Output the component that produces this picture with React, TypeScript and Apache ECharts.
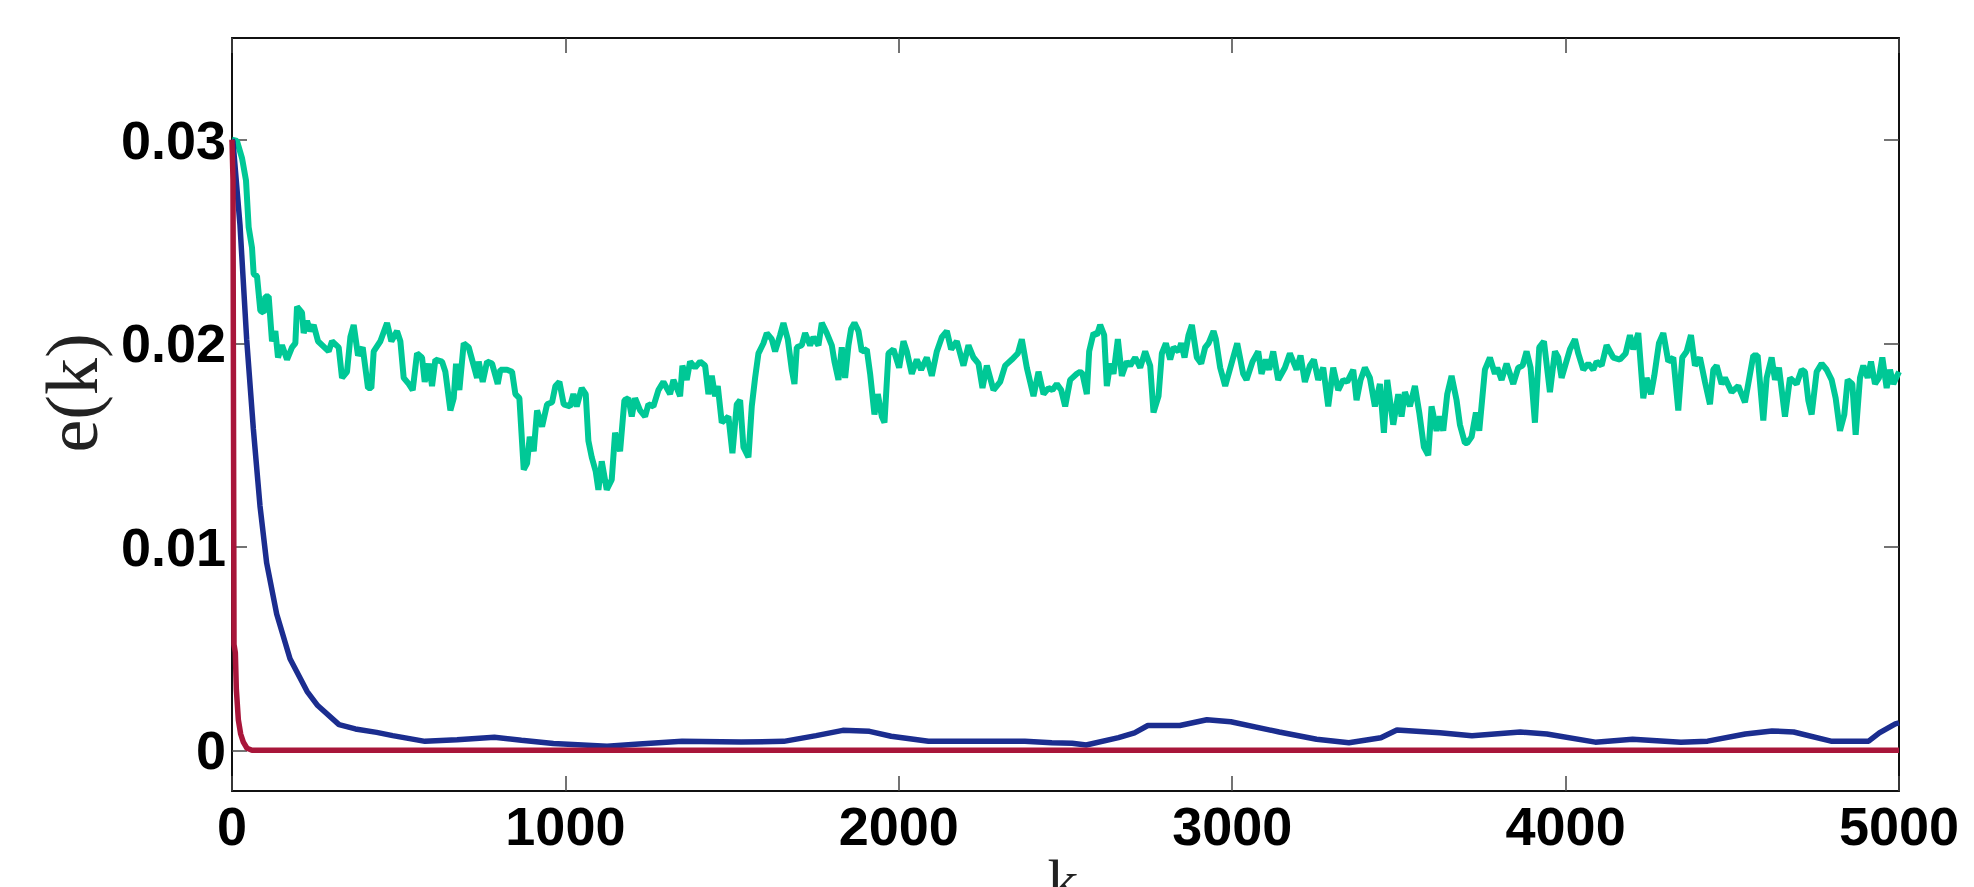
import React, { useEffect, useRef } from "react";
import * as echarts from "echarts";

const xTicks = [0, 1000, 2000, 3000, 4000, 5000];
const yTicks = [0, 0.01, 0.02, 0.03];

const greenK = [0, 15, 30, 42, 50, 60, 65, 75, 85, 95, 100, 110, 120, 130, 138, 150, 165, 180, 190, 195, 210, 215, 225, 235, 245, 258, 290, 300, 320, 330, 345, 355, 365, 378, 392, 408, 418, 425, 445, 465, 478, 495, 505, 515, 530, 542, 555, 570, 578, 590, 600, 610, 630, 640, 655, 665, 672, 682, 695, 710, 725, 735, 740, 752, 765, 780, 797, 805, 825, 840, 850, 862, 875, 885, 893, 905, 915, 930, 945, 960, 970, 982, 995,
  1014, 1024, 1034, 1049, 1061, 1069, 1079, 1091, 1099, 1109, 1124, 1139, 1149, 1164, 1177, 1189, 1199, 1209, 1224, 1239, 1249, 1264, 1279, 1294, 1314, 1324, 1344, 1351, 1364, 1374, 1389, 1404, 1419, 1429, 1439, 1449, 1457, 1469, 1489, 1501, 1514, 1524, 1534, 1549, 1559, 1569, 1579, 1594, 1604, 1619, 1629, 1644, 1654, 1667, 1679, 1687, 1694, 1709, 1719, 1734, 1744, 1759, 1769, 1784, 1799, 1807, 1819, 1829, 1839, 1849, 1857, 1867, 1879, 1889, 1904, 1914, 1927, 1937, 1949, 1957, 1969, 1984,
  2001, 2014, 2024, 2039, 2054, 2067, 2084, 2099, 2114, 2129, 2144, 2157, 2174, 2194, 2209, 2224, 2239, 2251, 2264, 2284, 2304, 2319, 2339, 2357, 2369, 2384, 2394, 2404, 2419, 2434, 2449, 2461, 2474, 2487, 2499, 2514, 2534, 2544, 2551, 2564, 2571, 2584, 2594, 2604, 2616, 2624, 2634, 2644, 2657, 2669, 2684, 2694, 2709, 2724, 2739, 2754, 2764, 2779, 2789, 2801, 2814, 2824, 2839, 2847, 2857, 2869, 2879, 2894, 2907, 2919, 2929, 2944, 2951, 2964, 2979,
  3003, 3015, 3033, 3043, 3061, 3078, 3088, 3101, 3111, 3123, 3138, 3158, 3173, 3193, 3205, 3218, 3233, 3245, 3258, 3273, 3288, 3303, 3318, 3333, 3345, 3363, 3373, 3385, 3398, 3413, 3428, 3443, 3455, 3465, 3483, 3498, 3508, 3518, 3533, 3548, 3561, 3575, 3588, 3598, 3613, 3623, 3633, 3645, 3658, 3673, 3683, 3698, 3705, 3718, 3731, 3741, 3758, 3773, 3788, 3795, 3808, 3823, 3843, 3858, 3871, 3883, 3895, 3908, 3921, 3935, 3953, 3968, 3978, 3988,
  4013, 4028, 4038, 4053, 4068, 4083, 4093, 4108, 4123, 4143, 4163, 4180, 4193, 4203, 4218, 4233, 4243, 4256, 4266, 4280, 4293, 4308, 4323, 4338, 4350, 4363, 4376, 4388, 4403, 4418, 4433, 4443, 4453, 4468, 4478, 4498, 4518, 4538, 4563, 4576, 4593, 4603, 4618, 4628, 4640, 4658, 4673, 4693, 4708, 4718, 4728, 4738, 4753, 4768, 4783, 4798, 4810, 4823, 4836, 4846, 4860, 4870, 4883, 4893, 4906, 4916, 4928, 4940, 4950, 4963, 4973, 4983, 5000];
const greenE = [0.0300, 0.02994, 0.0291, 0.0280, 0.0257, 0.0247, 0.0234, 0.0233, 0.0216, 0.0215, 0.0223, 0.0223, 0.0201, 0.0206, 0.0193, 0.0199, 0.0192, 0.0198, 0.0200, 0.0218, 0.0215, 0.0205, 0.0211, 0.0206, 0.0209, 0.0201, 0.0196, 0.0201, 0.0198, 0.0183, 0.0186, 0.0203, 0.0209, 0.0194, 0.0198, 0.0178, 0.0178, 0.0196, 0.0201, 0.0210, 0.0201, 0.0206, 0.0201, 0.0183, 0.0180, 0.0177, 0.0195, 0.0193, 0.0181, 0.0190, 0.0179, 0.0192, 0.0191, 0.0186, 0.0167, 0.0173, 0.0190, 0.0177, 0.0200, 0.0198, 0.0189, 0.0183, 0.0191, 0.0181, 0.0191, 0.0190, 0.0180, 0.0187, 0.0187, 0.0186, 0.0175, 0.0173, 0.0138, 0.0141, 0.0154, 0.0147, 0.0167, 0.0159, 0.0170, 0.0171, 0.0179, 0.0181, 0.0170,
  0.0169, 0.0175, 0.0169, 0.0178, 0.0175, 0.0152, 0.0144, 0.0137, 0.0128, 0.0142, 0.0128, 0.0133, 0.0156, 0.0147, 0.0172, 0.0173, 0.0164, 0.0173, 0.0167, 0.0164, 0.0170, 0.0169, 0.0177, 0.0181, 0.0175, 0.0182, 0.0174, 0.0189, 0.0182, 0.0191, 0.0188, 0.0191, 0.0189, 0.0175, 0.0184, 0.0174, 0.0179, 0.0161, 0.0164, 0.0146, 0.0170, 0.0172, 0.0149, 0.0144, 0.0169, 0.0183, 0.0195, 0.0200, 0.0205, 0.0202, 0.0196, 0.0204, 0.0210, 0.0202, 0.0187, 0.0180, 0.0198, 0.0199, 0.0205, 0.0199, 0.0203, 0.0199, 0.0210, 0.0205, 0.0199, 0.0191, 0.0182, 0.0198, 0.0183, 0.0199, 0.0207, 0.0210, 0.0206, 0.0196, 0.0197, 0.0185, 0.0165, 0.0175, 0.0164, 0.0161, 0.0195, 0.0197, 0.0188,
  0.0201, 0.0196, 0.0185, 0.0192, 0.0187, 0.0193, 0.0184, 0.0196, 0.0203, 0.0206, 0.0197, 0.0201, 0.0189, 0.0199, 0.0193, 0.0190, 0.0178, 0.0189, 0.0177, 0.0181, 0.0189, 0.0192, 0.0195, 0.0202, 0.0188, 0.0181, 0.0174, 0.0186, 0.0175, 0.0178, 0.0177, 0.0180, 0.0177, 0.0169, 0.0182, 0.0185, 0.0186, 0.0185, 0.0175, 0.0196, 0.0205, 0.0204, 0.0209, 0.0204, 0.0179, 0.0190, 0.0185, 0.0202, 0.0184, 0.0191, 0.0189, 0.0193, 0.0188, 0.0196, 0.0189, 0.0166, 0.0174, 0.0195, 0.0200, 0.0192, 0.0198, 0.0196, 0.0200, 0.0193, 0.0204, 0.0209, 0.0193, 0.0190, 0.0198, 0.0200, 0.0206, 0.0202, 0.0188, 0.0179, 0.0193,
  0.0200, 0.0185, 0.0182, 0.0191, 0.0196, 0.0185, 0.0192, 0.0187, 0.0196, 0.0182, 0.0188, 0.0195, 0.0187, 0.0194, 0.0181, 0.0189, 0.0192, 0.0182, 0.0188, 0.0169, 0.0188, 0.0177, 0.0182, 0.0181, 0.0187, 0.0172, 0.0182, 0.0188, 0.0183, 0.0169, 0.0180, 0.0156, 0.0182, 0.0160, 0.0175, 0.0164, 0.0176, 0.0169, 0.0179, 0.0166, 0.0149, 0.0145, 0.0169, 0.0157, 0.0164, 0.0157, 0.0175, 0.0184, 0.0172, 0.0160, 0.0151, 0.0151, 0.0154, 0.0166, 0.0157, 0.0187, 0.0193, 0.0185, 0.0188, 0.0182, 0.0190, 0.0180, 0.0188, 0.0189, 0.0196, 0.0188, 0.0161, 0.0198, 0.0201, 0.0176, 0.0196, 0.0193, 0.0183, 0.0197,
  0.0202, 0.0195, 0.0187, 0.0190, 0.0187, 0.0191, 0.0189, 0.0199, 0.0193, 0.0192, 0.0195, 0.0204, 0.0197, 0.0205, 0.0173, 0.0183, 0.0175, 0.0184, 0.0200, 0.0205, 0.0191, 0.0193, 0.0167, 0.0193, 0.0196, 0.0204, 0.0189, 0.0193, 0.0181, 0.0170, 0.0187, 0.0189, 0.0180, 0.0183, 0.0176, 0.0179, 0.0171, 0.0194, 0.0194, 0.0162, 0.0183, 0.0193, 0.0182, 0.0188, 0.0164, 0.0183, 0.0180, 0.0187, 0.0186, 0.0172, 0.0165, 0.0186, 0.0190, 0.0187, 0.0182, 0.0173, 0.0157, 0.0165, 0.0182, 0.0180, 0.0155, 0.0183, 0.0189, 0.0183, 0.0191, 0.0180, 0.0183, 0.0193, 0.0178, 0.0187, 0.0180, 0.0186, 0.0198];

const blueK = [0, 3, 24, 44, 64, 84, 104, 134, 174, 225, 257, 321, 370, 434, 482, 579, 675, 787, 868, 964, 1125, 1221, 1350, 1527, 1655, 1752, 1832, 1912, 1977, 2089, 2250, 2378, 2459, 2520, 2562, 2659, 2707, 2747, 2843, 2924, 2996, 3141, 3253, 3350, 3446, 3494, 3623, 3719, 3864, 3944, 4089, 4201, 4346, 4426, 4539, 4619, 4684, 4796, 4909, 4941, 4989, 5000];
const blueE = [0.0300, 0.0299, 0.0258, 0.0202, 0.0158, 0.0120, 0.0092, 0.0067, 0.0045, 0.0029, 0.0022, 0.00126, 0.00105, 0.00088, 0.00072, 0.00044, 0.00052, 0.00064, 0.00049, 0.00033, 0.0002, 0.00031, 0.00044, 0.00041, 0.00044, 0.00072, 0.00098, 0.00093, 0.00069, 0.00044, 0.00044, 0.00044, 0.00037, 0.00035, 0.00026, 0.00062, 0.00086, 0.00122, 0.00122, 0.0015, 0.0014, 0.0009, 0.00054, 0.00037, 0.00062, 0.0010, 0.00086, 0.00072, 0.0009, 0.0008, 0.0004, 0.00054, 0.0004, 0.00045, 0.0008, 0.00095, 0.0009, 0.00045, 0.00045, 0.00086, 0.0013, 0.00135];

const redK = [0, 3, 6, 10, 13, 19, 26, 34, 45, 60, 5000];
const redE = [0.0300, 0.0280, 0.0052, 0.0048, 0.0030, 0.0015, 0.0008, 0.0004, 0.0001, 0, 0];

const pairs = (ks: number[], vs: number[]) => ks.map((k, i) => [k, vs[i]]);

export default function App() {
  const ref = useRef<HTMLDivElement>(null);
  useEffect(() => {
    if (!ref.current) return;
    const chart = echarts.init(ref.current, null, { renderer: "svg" });
    const labelFont = { fontFamily: "Liberation Sans", fontSize: 54, fontWeight: "bold" as const, color: "#000" };
    const tickStyle = { color: "#444", width: 1.5 };
    const lineStyle = { color: "#111", width: 2 };
    chart.setOption({
      animation: false,
      backgroundColor: "#fff",
      grid: { left: 232, right: 75, top: 38, bottom: 96, show: false },
      xAxis: [
        {
          type: "value", min: 0, max: 5000, interval: 1000, position: "bottom",
          axisLine: { show: true, onZero: false, lineStyle },
          axisTick: { show: true, inside: true, length: 15, lineStyle: tickStyle },
          axisLabel: { ...labelFont, margin: 8, showMinLabel: true, showMaxLabel: true,
            customValues: xTicks, formatter: (v: number) => String(v) },
          splitLine: { show: false },
        },
        {
          type: "value", min: 0, max: 5000, interval: 1000, position: "top",
          axisLine: { show: true, onZero: false, lineStyle },
          axisTick: { show: true, inside: true, length: 15, lineStyle: tickStyle },
          axisLabel: { show: false },
          splitLine: { show: false },
        },
      ],
      yAxis: [
        {
          type: "value", min: -0.002, max: 0.035, position: "left",
          axisLine: { show: true, onZero: false, lineStyle },
          axisTick: { show: true, inside: true, length: 15, lineStyle: tickStyle, customValues: yTicks },
          axisLabel: { ...labelFont, margin: 6, customValues: yTicks,
            formatter: (v: number) => (v === 0 ? "0" : v.toFixed(2)) },
          splitLine: { show: false },
        },
        {
          type: "value", min: -0.002, max: 0.035, position: "right",
          axisLine: { show: true, onZero: false, lineStyle },
          axisTick: { show: true, inside: true, length: 15, lineStyle: tickStyle, customValues: yTicks },
          axisLabel: { show: false },
          splitLine: { show: false },
        },
      ],
      series: [
        { type: "line", data: pairs(greenK, greenE), showSymbol: false, lineStyle: { color: "#00C896", width: 6 }, z: 2 },
        { type: "line", data: pairs(blueK, blueE), showSymbol: false, lineStyle: { color: "#1B2D8F", width: 5.5 }, z: 3 },
        { type: "line", data: pairs(redK, redE), showSymbol: false, lineStyle: { color: "#A8163A", width: 5.5 }, z: 4 },
      ],
      graphic: [
        {
          type: "text", x: 72, y: 393, rotation: Math.PI / 2,
          style: { text: "e(k)", font: "74px 'Liberation Serif'", fill: "#222", align: "center", verticalAlign: "middle" },
        },
        {
          type: "text", x: 1063, y: 850,
          style: { text: "k", font: "62px 'Liberation Serif'", fill: "#222", align: "center", verticalAlign: "top" },
        },
      ],
    });
    return () => chart.dispose();
  }, []);
  return <div ref={ref} style={{ position: "fixed", left: 0, top: 0, width: 1974, height: 887, background: "#fff" }} />;
}
